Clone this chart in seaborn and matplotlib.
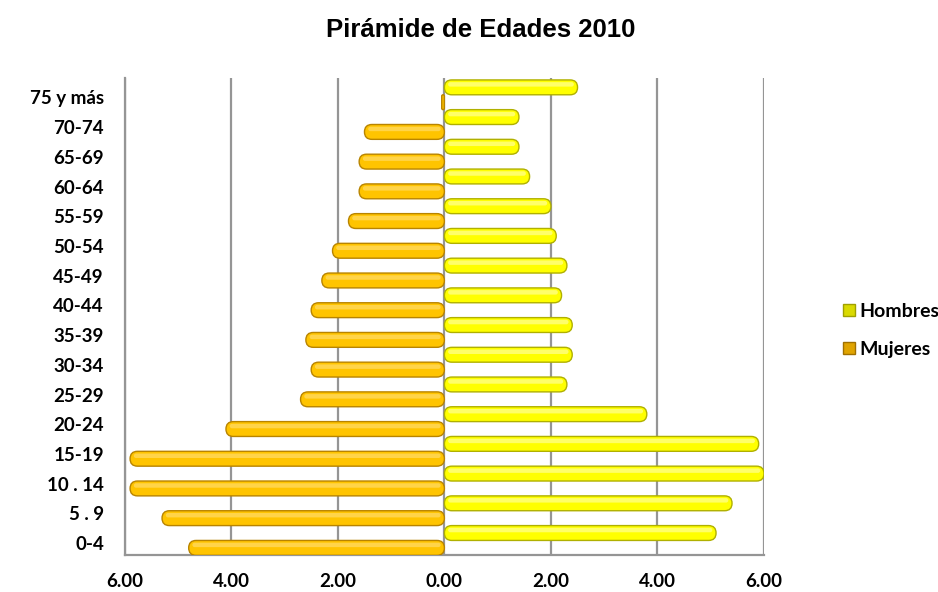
import pandas as pd
import numpy as np
import matplotlib
matplotlib.use("Agg")
import matplotlib.pyplot as plt
import seaborn as sns
from matplotlib.patches import FancyBboxPatch, Patch

# datos (porcentaje de la población)
grupos = ["75 y más", "70-74", "65-69", "60-64", "55-59", "50-54", "45-49", "40-44",
          "35-39", "30-34", "25-29", "20-24", "15-19", "10 . 14", "5 . 9", "0-4"]
hombres = [2.5, 1.4, 1.4, 1.6, 2.0, 2.1, 2.3, 2.2, 2.4, 2.4, 2.3, 3.8, 5.9, 6.0, 5.4, 5.1]
mujeres = [0.05, 1.5, 1.6, 1.6, 1.8, 2.1, 2.3, 2.5, 2.6, 2.5, 2.7, 4.1, 5.9, 5.9, 5.3, 4.8]
x_ticks = [-6, -4, -2, 0, 2, 4, 6]

df = pd.concat([
    pd.DataFrame({"Grupo": grupos, "Sexo": "Hombres", "Valor": hombres}),
    pd.DataFrame({"Grupo": grupos, "Sexo": "Mujeres", "Valor": [-v for v in mujeres]}),
])

colores = {"Hombres": "#FFFF00", "Mujeres": "#FFC400"}
bordes = {"Hombres": "#B0B000", "Mujeres": "#B88400"}
brillo = {"Hombres": "#FFFFB0", "Mujeres": "#FFE07A"}

sns.set_style("white")
plt.rcParams['font.family'] = ['Lato', 'DejaVu Sans']
plt.rcParams['text.color'] = 'black'
plt.rcParams['xtick.labelcolor'] = 'black'
plt.rcParams['ytick.labelcolor'] = 'black'

fig = plt.figure(figsize=(9.38, 5.92), dpi=100)
ax = fig.add_axes([0.133, 0.0625, 0.6815, 0.8055])

sns.barplot(data=df, y="Grupo", x="Valor", hue="Sexo", order=grupos,
            hue_order=["Hombres", "Mujeres"], palette=colores, width=1.0,
            orient="h", ax=ax, legend=False)

ax.set_xlim(-6, 6)
ax.set_ylim(15.49, -0.56)

# proporción px por unidad para redondear los extremos (cilindros)
ax_w = 0.6815 * 938
ax_h = 0.8055 * 592
x_px = ax_w / 12.0
y_px = ax_h / (15.49 + 0.56)
asp = x_px / y_px

barras = list(ax.patches)
n = len(grupos)
for k, p in enumerate(barras):
    sexo = "Hombres" if k < n else "Mujeres"
    x0 = min(p.get_x(), p.get_x() + p.get_width())
    w = abs(p.get_width())
    y0, h = p.get_y(), p.get_height()
    p.set_visible(False)
    r = min(h / 2 / asp, w / 2)
    ax.add_patch(FancyBboxPatch((x0, y0), w, h,
                                boxstyle=f"round,pad=0,rounding_size={r}",
                                mutation_aspect=asp, facecolor=colores[sexo],
                                edgecolor=bordes[sexo], linewidth=1.0, zorder=3))
    # brillo superior
    hh = h * 0.3
    rr = min(hh / 2 / asp, w / 2)
    if w > 0.2:
        ax.add_patch(FancyBboxPatch((x0 + 0.07, y0 + h * 0.15), w - 0.14, hh,
                                    boxstyle=f"round,pad=0,rounding_size={rr}",
                                    mutation_aspect=asp, facecolor=brillo[sexo],
                                    edgecolor="none", alpha=0.6, zorder=4))

# rejilla vertical
for xv in x_ticks:
    ax.axvline(xv, color="#959595", lw=1.6, zorder=1)

for s in ["top", "right"]:
    ax.spines[s].set_visible(False)
ax.spines["left"].set_color("#959595")
ax.spines["left"].set_linewidth(1.6)
ax.spines["bottom"].set_color("#959595")
ax.spines["bottom"].set_linewidth(1.6)

ax.set_xticks(x_ticks)
ax.set_xticklabels([f"{abs(v):.2f}" for v in x_ticks], fontsize=13.5, fontweight="bold")
ax.tick_params(axis="x", length=5, color="#959595", width=1.2, pad=8)
ax.set_yticks(np.arange(n) + 0.09)
ax.set_yticklabels(grupos, fontsize=13.5, fontweight="bold")
ax.tick_params(axis="y", length=0, pad=15)
ax.set_xlabel("")
ax.set_ylabel("")

fig.text(0.512, 0.95, "Pirámide de Edades 2010", ha="center", va="center", color="black",
         fontsize=18.5, fontweight="bold", family=["Liberation Sans", "DejaVu Sans"])

handles = [Patch(facecolor="#DADA00", edgecolor="#A0A000", label="Hombres"),
           Patch(facecolor="#E0A400", edgecolor="#A07000", label="Mujeres")]
fig.legend(handles=handles, loc="center left", bbox_to_anchor=(0.88, 0.442),
           frameon=False, handlelength=0.6, handleheight=0.6, handletextpad=0.25,
           labelspacing=1.1, prop={"size": 14, "weight": "bold"})

fig.savefig("out.png", dpi=100)
